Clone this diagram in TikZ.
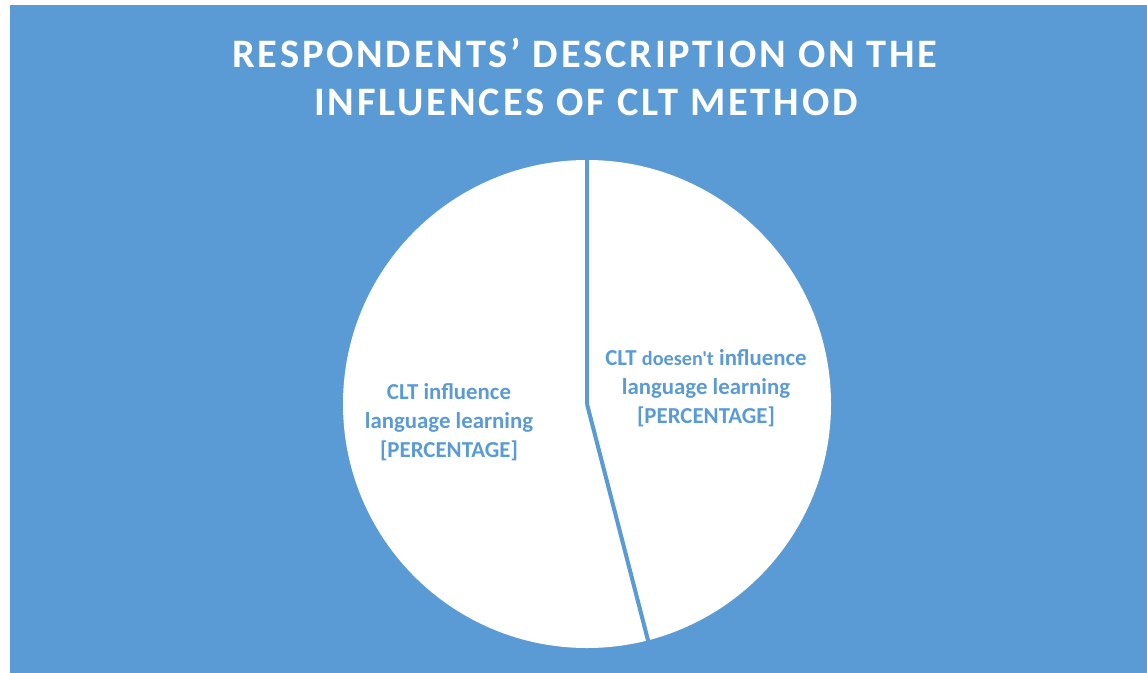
\documentclass[tikz,border=0pt]{standalone}
\usepackage{fontspec}
\setmainfont{Carlito}[Ligatures=TeXOff]
\usetikzlibrary{positioning}
\definecolor{chartblue}{HTML}{5B9BD5}

\begin{document}
\begin{tikzpicture}[x=0.02cm,y=-0.02cm]
\tikzstyle{title}=[text=white,inner sep=0pt,font=\bfseries\fontsize{23}{28}\selectfont\addfontfeature{LetterSpace=7}]
\tikzstyle{slicelabel}=[text=chartblue,inner sep=0pt,align=center,font=\bfseries\fontsize{13}{16.5}\selectfont]
\tikzstyle{divider}=[draw=chartblue,line width=2.3pt]
\useasboundingbox (0,0) rectangle (1147,673);
% background
\fill [white] (0,0) rectangle (1147,673);
\fill [chartblue] (10,5) rectangle (1147,673);
% title
\node [title] (title1) at (585,53) {RESPONDENTS’ DESCRIPTION ON THE};
\node [title] (title2) at (586,102) {INFLUENCES OF CLT METHOD};
% pie
\coordinate (centre) at (587,404);
\coordinate (top) at (587,150);
\coordinate (cut) at (650,648);
\fill [white] (centre) circle (244);
\draw [divider] (centre) -- (top);
\draw [divider] (centre) -- (cut);
% labels
\node [slicelabel] (yes) at (449,422) {CLT influence\\language learning\\{[PERCENTAGE]}};
\node [slicelabel] (no) at (706,388) {CLT {\fontsize{11.5}{16.5}\selectfont doesen't} influence\\language learning\\{[PERCENTAGE]}};
\end{tikzpicture}
\end{document}
